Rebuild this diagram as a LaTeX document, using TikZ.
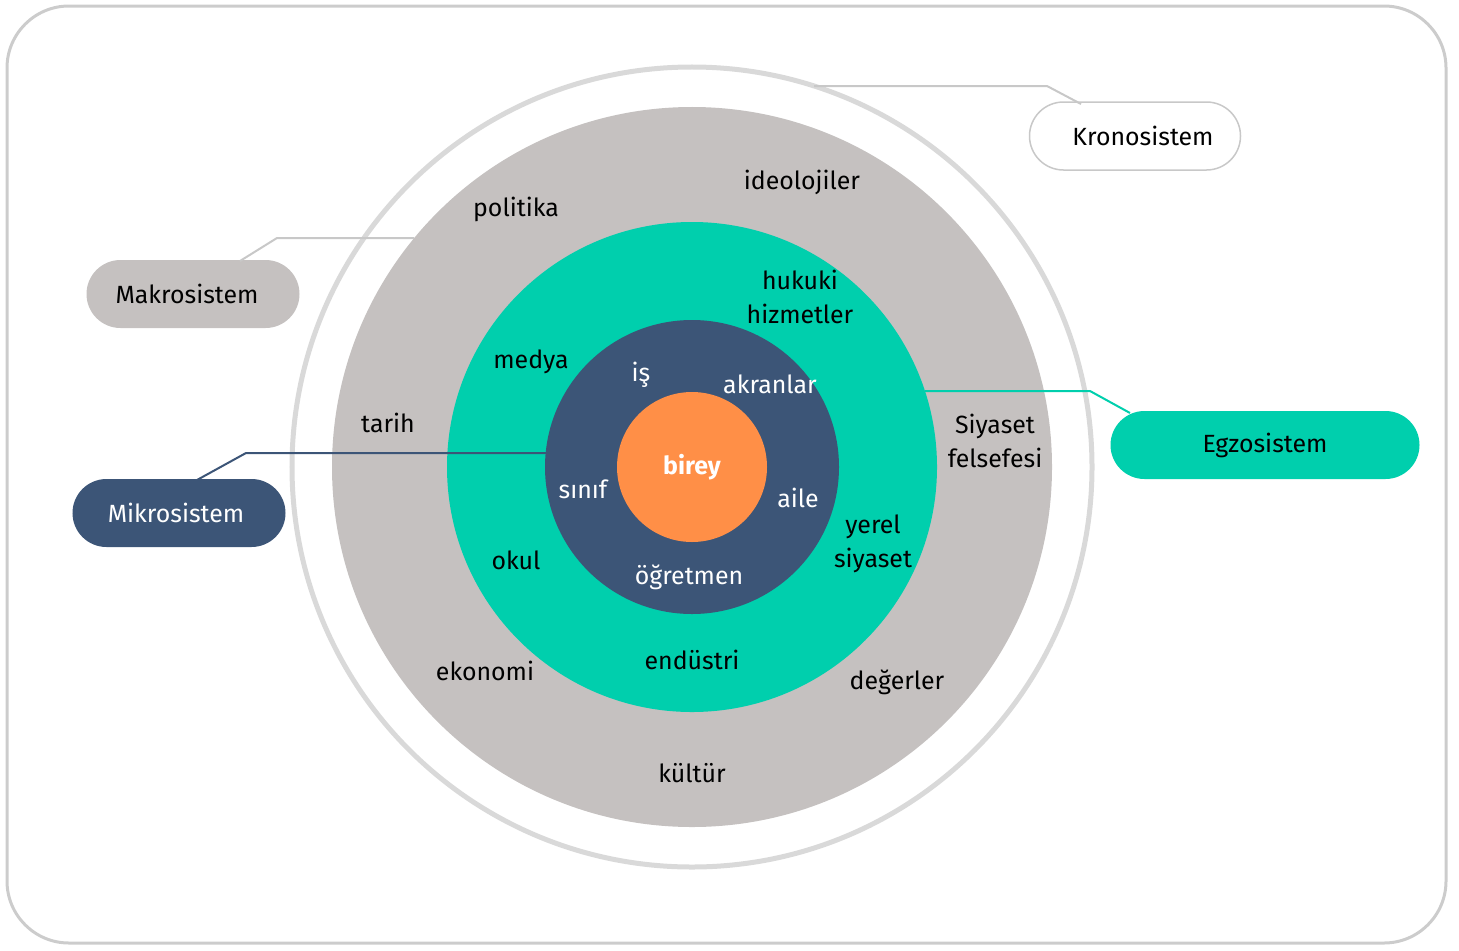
\documentclass[tikz,border=0pt]{standalone}
\usepackage{fontspec}
\setmainfont{Fira Sans}
\usetikzlibrary{shapes.misc}
\definecolor{ringgray}{HTML}{D9D9D9}
\definecolor{makro}{HTML}{C5C1C0}
\definecolor{egzo}{HTML}{00CFAD}
\definecolor{mikro}{HTML}{3C5577}
\definecolor{birey}{HTML}{FF8F47}
\definecolor{linegray}{HTML}{C8C8C8}
\definecolor{framegray}{HTML}{CCCCCC}
\begin{document}
\begin{tikzpicture}[x=1bp,y=-1bp,
  disk/.style={circle,inner sep=0pt,draw=none},
  pill/.style={rounded rectangle,minimum width=213bp,minimum height=68bp,inner sep=0pt,font=\fontsize{25}{34}\selectfont},
  lbl/.style={font=\fontsize{25}{34}\selectfont,align=center,inner sep=0pt,text=black},
  wlbl/.style={lbl,text=white},
  conn/.style={line width=2bp}
]
\useasboundingbox (0,0) rectangle (1459,950);
\draw[framegray,line width=3bp,rounded corners=62bp] (7,6) rectangle (1446,943);
% rings
\node[disk,draw=ringgray,line width=5bp,minimum size=800bp] (krono) at (692,467) {};
\node[disk,fill=makro,minimum size=720bp] (makroD) at (692,467) {};
\node[disk,fill=egzo,minimum size=490bp] (egzoD) at (692,467) {};
\node[disk,fill=mikro,minimum size=294bp] (mikroD) at (692,467) {};
\node[disk,fill=birey,minimum size=150bp] (bireyD) at (692,467) {};
% pills
\node[pill,draw=linegray,line width=1.5bp,fill=white,minimum width=211bp] (kronoP) at (1135,136) {\hspace*{16bp}Kronosistem};
\node[pill,fill=makro] (makroP) at (193,294) {Makrosistem\hspace*{12bp}};
\node[pill,fill=mikro,text=white] (mikroP) at (179,513) {Mikrosistem\hspace*{6bp}};
\node[pill,fill=egzo,minimum width=309bp] (egzoP) at (1265,445) {Egzosistem};
% connector anchors
\coordinate (k1) at (814,86);
\coordinate (k2) at (1047,86);
\coordinate (k3) at (1081,104);
\coordinate (m1) at (414,238);
\coordinate (m2) at (277,238);
\coordinate (m3) at (240,261);
\coordinate (i1) at (546,453);
\coordinate (i2) at (246,453);
\coordinate (i3) at (197,480);
\coordinate (e1) at (925,391);
\coordinate (e2) at (1090,391);
\coordinate (e3) at (1130,413);
\draw[conn,linegray] (k1) -- (k2) -- (k3);
\draw[conn,linegray] (m1) -- (m2) -- (m3);
\draw[conn,mikro] (i1) -- (i2) -- (i3);
\draw[conn,egzo] (e1) -- (e2) -- (e3);
% labels
\node[lbl] (t1) at (802,182) {ideolojiler};
\node[lbl] (t2) at (516,209) {politika};
\node[lbl] (t3) at (800,297) {hukuki\\hizmetler};
\node[lbl] (t4) at (531,362) {medya};
\node[wlbl] (t5) at (641,375) {iş};
\node[wlbl] (t6) at (770,384) {akranlar};
\node[lbl] (t7) at (388,423) {tarih};
\node[lbl] (t8) at (995,441) {Siyaset\\felsefesi};
\node[wlbl,font=\fontsize{25}{34}\selectfont\bfseries] (t9) at (692,467) {birey};
\node[wlbl] (t10) at (583,489) {sınıf};
\node[wlbl] (t11) at (798,498) {aile};
\node[lbl] (t12) at (873,544) {yerel\\siyaset};
\node[lbl] (t13) at (516,560) {okul};
\node[wlbl] (t14) at (689,577) {öğretmen};
\node[lbl] (t15) at (692,660) {endüstri};
\node[lbl] (t16) at (485,671) {ekonomi};
\node[lbl] (t17) at (897,682) {değerler};
\node[lbl] (t18) at (692,773) {kültür};
\end{tikzpicture}
\end{document}
